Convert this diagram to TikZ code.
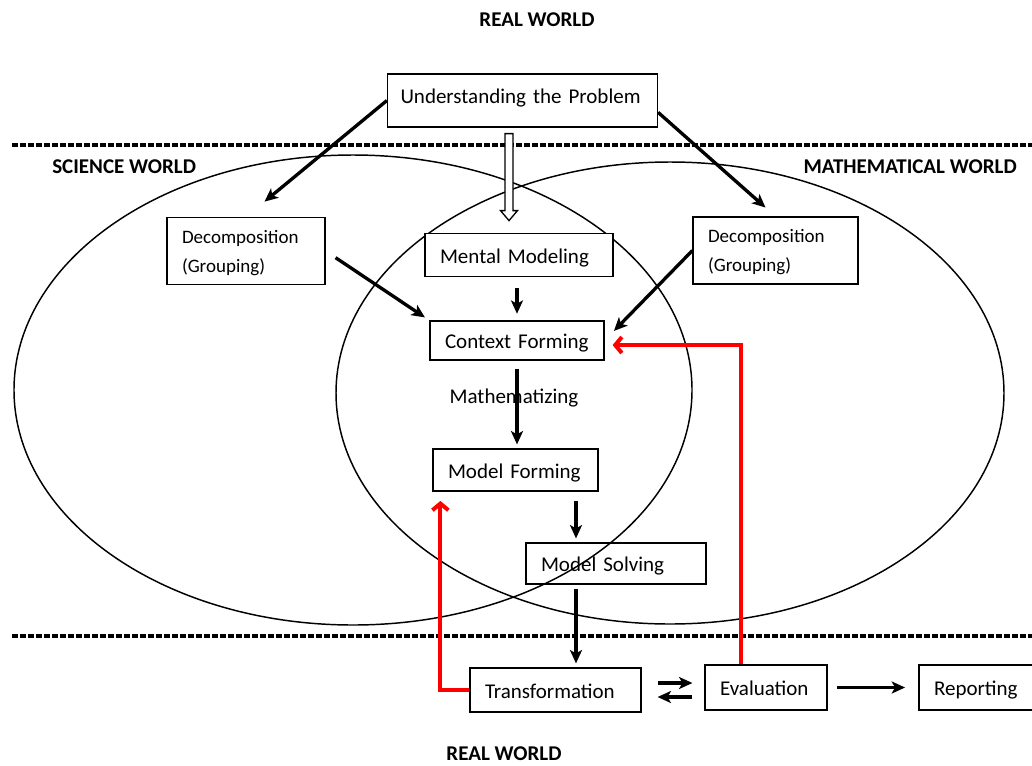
\documentclass[tikz,border=0pt]{standalone}
\usepackage{fontspec}
\setmainfont{Carlito}
\usetikzlibrary{arrows.meta,calc}

\begin{document}
\begin{tikzpicture}[x=0.75pt,y=-0.75pt,
		box/.style={draw, line width=0.9pt, inner xsep=11.25pt, inner ysep=0pt, align=left, text height=12.5pt, text depth=0.5pt, font=\fontsize{15.75}{19}\selectfont},
		decomp/.style={box, text height=11pt, text depth=23pt, font=\fontsize{14.25}{21.75}\selectfont},
		arr/.style={line width=2.5pt, -{Stealth[length=10pt,width=9pt,inset=2.5pt]}},
		redarr/.style={draw=red, line width=3pt, -{Straight Barb[length=5pt,width=12pt]}},
		dotline/.style={line width=3pt, dash pattern=on 4.5pt off 1.5pt},
		world/.style={inner sep=0pt, font=\fontsize{15.75}{19}\selectfont\bfseries},
		ring/.style={line width=1.1pt}]
		%%%%% START %%%%%
		
		\useasboundingbox (0,0) rectangle (1032,765);
		
		\node[world] (realtop) at (537,20) {REAL WORLD};
		\node[world, anchor=west] (science) at (52,167) {SCIENCE WORLD};
		\node[world, anchor=east] (mathw) at (1017,167) {MATHEMATICAL WORLD};
		\node[world] (realbot) at (504,754) {REAL WORLD};
		
		% borders of the worlds
		\draw[dotline] (12,145) -- (1032,145);
		\draw[dotline] (12,636) -- (1032,636);
		
		\draw[ring] (353,390) ellipse [x radius=339, y radius=235];
		\draw[ring] (670,393) ellipse [x radius=334, y radius=231];
		
		\node[box, text width=183pt, inner xsep=9.75pt, text depth=8.75pt, minimum height=39.75pt] (undst) at (522.5,100.5) {Understanding the Problem};
		\node[decomp, text width=96pt, minimum height=50.25pt] (decl) at (246,251) {Decomposition\\(Grouping)};
		\node[decomp, text width=101.25pt, minimum height=50.25pt] (decr) at (775.5,250.5) {Decomposition\\(Grouping)};
		\node[box, fill=white, text width=118.5pt, minimum height=32.25pt] (mental) at (519,255) {Mental Modeling};
		\node[box, text width=108pt, minimum height=29.25pt] (context) at (517,340.5) {Context Forming};
		\node[world, font=\fontsize{15.75}{19}\selectfont] (mathz) at (514,398) {Mathematizing};
		\node[box, text width=101.25pt, minimum height=31.5pt] (mform) at (515.5,470) {Model Forming};
		\node[box, text width=112.5pt, minimum height=30.75pt] (msolve) at (616,563.5) {Model Solving};
		\node[box, text width=105.75pt, minimum height=33pt] (transf) at (555.5,690) {Transformation};
		\node[box, text width=69pt, minimum height=33.75pt] (evalu) at (766,687.5) {Evaluation};
		\node[box, text width=68.25pt, minimum height=33.75pt] (report) at (979.5,687.5) {Reporting};
		
		\coordinate (hollow) at ($(undst.south)+(-13.5,6)$);
		\draw[line width=1pt, fill=white, shift={(hollow)}] (-4,0) -- (4,0) -- (4,77) -- (8.5,77) -- (0,87) -- (-8.5,77) -- (-4,77) -- cycle;
		
		\coordinate (spine) at (576,0);
		
		\draw[arr, shorten >=18pt] (undst.west) -- (decl.north);
		\draw[arr, shorten >=10pt] (undst.-5) -- (decr.north);
		\draw[arr, shorten <=9pt, shorten >=4pt] (decl.east) -- (context.north west);
		\draw[arr, shorten >=10pt] (decr.west) -- (context.east);
		\draw[arr, shorten <=8pt, shorten >=5pt] (mental.south -| context.north) -- (context.north);
		\draw[arr, shorten <=6pt, shorten >=3pt] (context.south) -- (context.south |- mform.north);
		\draw[arr, shorten <=7pt, shorten >=3pt] (mform.south -| spine) -- (msolve.north -| spine);
		\draw[arr, shorten <=3pt, shorten >=3pt] (msolve.south -| spine) -- (transf.north -| spine);
		\draw[arr, shorten <=12pt, shorten >=9pt] ([yshift=5.25pt]transf.east) -- ([yshift=5.25pt]transf.east -| evalu.west);
		\draw[arr, shorten <=9pt, shorten >=12pt] ([yshift=-5.25pt]transf.east -| evalu.west) -- ([yshift=-5.25pt]transf.east);
		\draw[arr, shorten <=7pt, shorten >=10pt] (evalu.east) -- (report.west);
		
		\draw[redarr, shorten >=6pt] ([xshift=-18.75pt]evalu.north) |- ([yshift=-3.4pt]context.east);
		\draw[redarr, shorten >=7pt] (transf.west) -| ([xshift=6pt]mform.south west);
		
		%%%%% END %%%%%
	\end{tikzpicture}
\end{document}
